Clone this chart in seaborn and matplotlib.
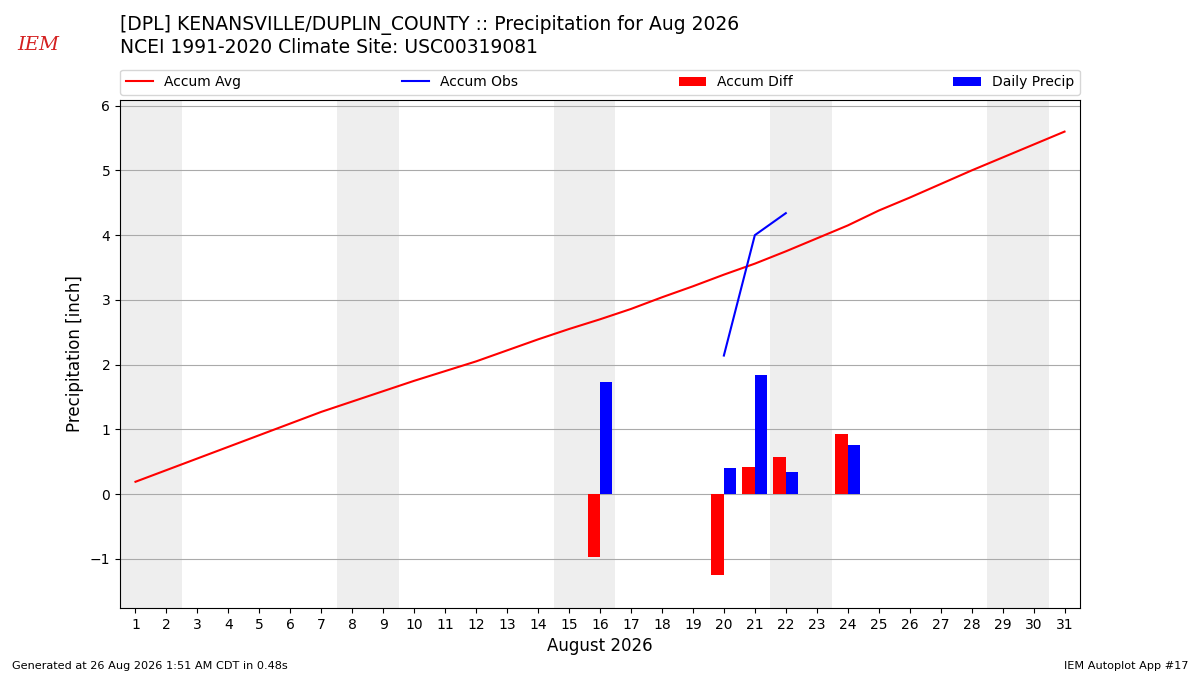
import matplotlib
matplotlib.use("Agg")
import matplotlib.pyplot as plt
import pandas as pd
import seaborn as sns

# Data
days = list(range(1, 32))
accum_avg = [0.19, 0.37, 0.55, 0.73, 0.91, 1.09, 1.27, 1.43, 1.59, 1.75,
             1.90, 2.05, 2.22, 2.39, 2.55, 2.70, 2.86, 3.04, 3.21, 3.39,
             3.56, 3.75, 3.95, 4.15, 4.38, 4.58, 4.79, 5.00, 5.20, 5.40, 5.60]
obs_days = [20, 21, 22]
accum_obs = [2.14, 4.00, 4.34]
diff_days = [16, 20, 21, 22, 24]
accum_diff = [-0.97, -1.25, 0.42, 0.57, 0.93]
precip_days = [16, 20, 21, 22, 24]
daily_precip = [1.73, 0.40, 1.84, 0.34, 0.76]
weekends = [1, 8, 15, 22, 29]

avg_df = pd.DataFrame({"day": days, "precip": accum_avg})
obs_df = pd.DataFrame({"day": obs_days, "precip": accum_obs})

fig = plt.figure(figsize=(12, 6.75), dpi=100)
ax = fig.add_axes([0.1, 0.0993, 0.8, 0.7527])

# Weekend shading
for d in weekends:
    ax.axvspan(d - 0.5, d + 1.5, color="#eeeeee", zorder=0, lw=0)

# Bars
ax.bar([d - 0.4 for d in diff_days], accum_diff, width=0.4, align="edge",
       color="red", label="Accum Diff", zorder=3)
ax.bar(precip_days, daily_precip, width=0.4, align="edge",
       color="blue", label="Daily Precip", zorder=3)

# Lines
sns.lineplot(data=avg_df, x="day", y="precip", color="red", lw=1.5,
             label="Accum Avg", ax=ax, zorder=4)
sns.lineplot(data=obs_df, x="day", y="precip", color="blue", lw=1.5,
             label="Accum Obs", ax=ax, zorder=4)

ax.set_xlim(0.5, 31.5)
ax.set_ylim(-1.76, 6.09)
ax.set_xticks(days)
ax.set_xticklabels([str(d) for d in days])
ax.set_yticks(range(-1, 7))
ax.yaxis.grid(True, color="#aaaaaa", lw=0.8, zorder=1)
ax.set_axisbelow(True)
ax.tick_params(labelsize=10)
ax.set_xlabel("August 2026", fontsize=12)
ax.set_ylabel("Precipitation [inch]", fontsize=12)

handles, labels = ax.get_legend_handles_labels()
order = ["Accum Avg", "Accum Obs", "Accum Diff", "Daily Precip"]
hmap = dict(zip(labels, handles))
ax.legend([hmap[k] for k in order], order, loc="lower left", ncol=4,
          mode="expand", bbox_to_anchor=(0, 1.01, 1, 0.05), borderaxespad=0,
          fontsize=10)

# Titles and footer
fig.text(0.1, 0.963, "[DPL] KENANSVILLE/DUPLIN_COUNTY :: Precipitation for Aug 2026",
         fontsize=13.5, va="center")
fig.text(0.1, 0.929, "NCEI 1991-2020 Climate Site: USC00319081",
         fontsize=13.5, va="center")
fig.text(0.032, 0.933, "IEM", fontsize=14, color="#d42020", family="serif",
         style="italic", va="center", ha="center")
fig.text(0.01, 0.009, "Generated at 26 Aug 2026 1:51 AM CDT in 0.48s", fontsize=8.1)
fig.text(0.99, 0.009, "IEM Autoplot App #17", fontsize=8.1, ha="right")

fig.savefig("out.png", dpi=100)
